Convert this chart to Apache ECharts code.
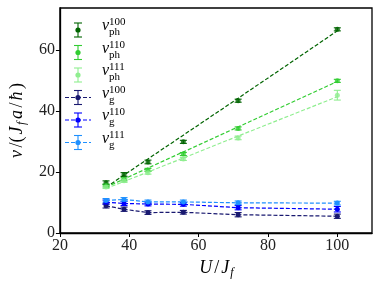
<!DOCTYPE html>
<html><head><meta charset="utf-8">
<script src="https://cdn.jsdelivr.net/npm/echarts@6/dist/echarts.min.js"></script>
<style>html,body{margin:0;padding:0;background:#fff}#c{width:381px;height:286px}</style>
</head><body><div id="c"></div>
<script>
// ---- data ----
const xValues = [33.3, 38.5, 45.4, 55.6, 71.4, 100];
const vph100 = [16.5, 19.2, 23.3, 29.9, 43.4, 66.8];
const vph100Err = [0.6, 0.6, 0.6, 0.5, 0.5, 0.5];
const vph110 = [15.6, 17.6, 20.7, 25.9, 34.3, 49.9];
const vph110Err = [0.5, 0.5, 0.5, 0.5, 0.5, 0.5];
const vph111 = [15.1, 17.1, 19.8, 24.3, 31.2, 45.2];
const vph111Err = [0.5, 0.5, 0.5, 0.5, 0.6, 1.6];
const fit100 = [15.0, 19.0, 24.3, 32.1, 44.2, 66.3];
const fit110 = [15.0, 17.7, 21.3, 26.6, 34.8, 49.7];
const fit111 = [14.6, 16.9, 20.0, 24.6, 31.8, 44.7];
const vg100 = [8.9, 7.8, 6.7, 6.8, 6.0, 5.5];
const vg100Err = [0.7, 0.7, 0.6, 0.6, 0.7, 0.7];
const vg110 = [10.1, 9.7, 9.5, 9.4, 8.3, 7.8];
const vg110Err = [0.7, 0.7, 0.6, 0.6, 0.7, 0.9];
const vg111 = [10.7, 11.0, 10.2, 10.2, 9.9, 9.8];
const vg111Err = [0.6, 0.6, 0.6, 0.6, 0.6, 0.6];
const xTicks = [20, 40, 60, 80, 100];
const yTicks = [0, 20, 40, 60];
const legendSup = ['100', '110', '111', '100', '110', '111'];
const legendSub = ['ph', 'ph', 'ph', 'g', 'g', 'g'];

// ---- styles ----
const C = {
  ph100: '#006400', ph110: '#32cd32', ph111: '#90ee90',
  g100: '#191970', g110: '#0000ff', g111: '#1e90ff'
};
const FONT = '"Liberation Serif", "DejaVu Serif", serif';
const DASH = [4, 2];

function pairs(ys) { return xValues.map((x, i) => [x, ys[i]]); }

function errSeries(ys, errs, color) {
  return {
    type: 'custom', silent: true, z: 3,
    data: xValues.map((x, i) => [x, ys[i] - errs[i], ys[i] + errs[i]]),
    renderItem(params, api) {
      const p0 = api.coord([api.value(0), api.value(1)]);
      const p1 = api.coord([api.value(0), api.value(2)]);
      const w = 3.5;
      const st = { stroke: color, lineWidth: 1.1 };
      return { type: 'group', children: [
        { type: 'line', shape: { x1: p0[0], y1: p0[1], x2: p1[0], y2: p1[1] }, style: st },
        { type: 'line', shape: { x1: p0[0] - w, y1: p0[1], x2: p0[0] + w, y2: p0[1] }, style: st },
        { type: 'line', shape: { x1: p1[0] - w, y1: p1[1], x2: p1[0] + w, y2: p1[1] }, style: st }
      ]};
    }
  };
}
function fitSeries(ys, color) {
  return { type: 'line', data: pairs(ys), symbol: 'none', silent: true, z: 2,
    lineStyle: { color, width: 1.2, type: DASH } };
}
function phSeries(ys, color) {
  return { type: 'scatter', data: pairs(ys), symbol: 'circle', symbolSize: 5, z: 4,
    itemStyle: { color } };
}
function gSeries(ys, color) {
  return { type: 'line', data: pairs(ys), symbol: 'circle', symbolSize: 5, showSymbol: true, z: 4,
    itemStyle: { color }, lineStyle: { color, width: 1.2, type: DASH } };
}

// ---- legend (graphic) ----
const legendColors = [C.ph100, C.ph110, C.ph111, C.g100, C.g110, C.g111];
const rowY = [30, 52.5, 75, 97.5, 120, 142.5];
const legendEls = [];
rowY.forEach((y, i) => {
  const col = legendColors[i];
  const hx = 78;
  const st = { stroke: col, lineWidth: 1.1 };
  if (i >= 3) legendEls.push({ type: 'line', shape: { x1: 65, y1: y, x2: 91, y2: y }, style: { stroke: col, lineWidth: 1.2, lineDash: DASH } });
  legendEls.push({ type: 'line', shape: { x1: hx, y1: y - 7, x2: hx, y2: y + 7 }, style: st });
  legendEls.push({ type: 'line', shape: { x1: hx - 4, y1: y - 7, x2: hx + 4, y2: y - 7 }, style: st });
  legendEls.push({ type: 'line', shape: { x1: hx - 4, y1: y + 7, x2: hx + 4, y2: y + 7 }, style: st });
  legendEls.push({ type: 'circle', shape: { cx: hx, cy: y, r: 2.6 }, style: { fill: col } });
  legendEls.push({ type: 'text', x: 102, y: y - 4, style: { text: 'v', font: 'italic 16px ' + FONT, fill: '#000', verticalAlign: 'middle', align: 'left' } });
  legendEls.push({ type: 'text', x: 109, y: y - 7.5, style: { text: legendSup[i], font: '11px ' + FONT, fill: '#000', verticalAlign: 'middle', align: 'left' } });
  legendEls.push({ type: 'text', x: 109, y: y + 2.5, style: { text: legendSub[i], font: '11px ' + FONT, fill: '#000', verticalAlign: 'middle', align: 'left' } });
});

const chart = echarts.init(document.getElementById('c'), null, { renderer: 'canvas' });
chart.setOption({
  animation: false,
  backgroundColor: '#fff',
  grid: { left: 53, right: 9, top: 8, bottom: 53, show: true, borderColor: '#000', borderWidth: 1.3, containLabel: false },
  xAxis: {
    type: 'value', min: 20, max: 110, interval: 20,
    name: '{i|U}{r|/}{i|J}{s|f}', nameLocation: 'middle', nameGap: 24,
    nameTextStyle: { rich: {
      i: { fontFamily: FONT, fontStyle: 'italic', fontSize: 18, color: '#000', lineHeight: 22, verticalAlign: 'middle', padding: [0, 1, 0, 1] },
      r: { fontFamily: FONT, fontSize: 18, color: '#000', lineHeight: 22, verticalAlign: 'middle', padding: [0, 1, 0, 1] },
      s: { fontFamily: FONT, fontStyle: 'italic', fontSize: 12, color: '#000', lineHeight: 22, verticalAlign: 'bottom' }
    } },
    axisLine: { show: true, lineStyle: { color: '#000', width: 1.3 } },
    axisTick: { show: true, inside: false, length: 4, customValues: xTicks, lineStyle: { color: '#000', width: 1 } },
    axisLabel: { customValues: xTicks, fontFamily: FONT, fontSize: 16, color: '#222', margin: 5 },
    splitLine: { show: false }
  },
  yAxis: {
    type: 'value', min: 0, max: 73.8, interval: 20,
    name: '{i|v}{r|/(}{i|J}{s|f}{i|a}{r|/}{i|ħ}{r|)}', nameLocation: 'middle', nameGap: 24, nameRotate: 90,
    nameTextStyle: { rich: {
      i: { fontFamily: FONT, fontStyle: 'italic', fontSize: 18, color: '#000', lineHeight: 22, verticalAlign: 'middle', padding: [0, 1.5, 0, 1] },
      r: { fontFamily: FONT, fontSize: 18, color: '#000', lineHeight: 22, verticalAlign: 'middle', padding: [0, 1, 0, 1] },
      s: { fontFamily: FONT, fontStyle: 'italic', fontSize: 12, color: '#000', lineHeight: 22, verticalAlign: 'bottom', padding: [0, 1.5, 0, 0] }
    } },
    axisLine: { show: true, lineStyle: { color: '#000', width: 1.3 } },
    axisTick: { show: true, inside: false, length: 4, customValues: yTicks, lineStyle: { color: '#000', width: 1 } },
    axisLabel: { customValues: yTicks, fontFamily: FONT, fontSize: 16, color: '#222', margin: 5 },
    splitLine: { show: false }
  },
  series: [
    errSeries(vph100, vph100Err, C.ph100), phSeries(vph100, C.ph100),
    errSeries(vph110, vph110Err, C.ph110), phSeries(vph110, C.ph110),
    errSeries(vph111, vph111Err, C.ph111), phSeries(vph111, C.ph111),
    errSeries(vg100, vg100Err, C.g100), gSeries(vg100, C.g100),
    errSeries(vg110, vg110Err, C.g110), gSeries(vg110, C.g110),
    errSeries(vg111, vg111Err, C.g111), gSeries(vg111, C.g111),
    fitSeries(fit100, C.ph100), fitSeries(fit110, C.ph110), fitSeries(fit111, C.ph111)
  ],
  graphic: { elements: legendEls }
});
</script>
</body></html>
